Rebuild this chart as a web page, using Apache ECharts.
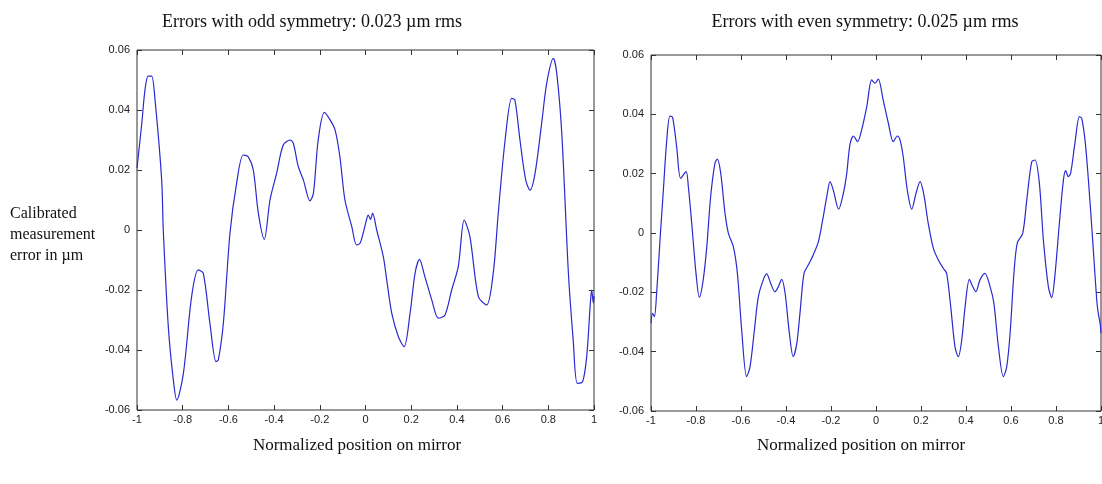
<!DOCTYPE html>
<html>
<head>
<meta charset="utf-8">
<script src="https://cdn.jsdelivr.net/npm/echarts@6/dist/echarts.min.js"></script>
<style>
html,body{margin:0;padding:0;background:#fff;}
#chart{width:1102px;height:484px;}
</style>
</head>
<body>
<div id="chart"></div>
<script>
const titleOdd = 'Errors with odd symmetry: 0.023 \u00b5m rms';
const titleEven = 'Errors with even symmetry: 0.025 \u00b5m rms';
const xAxisName = 'Normalized position on mirror';
const yAxisNameLines = ['Calibrated', 'measurement', 'error in \u00b5m'];

const oddX = [-1, -0.979, -0.965, -0.951, -0.936, -0.921, -0.892, -0.885, -0.863, -0.841, -0.826, -0.797, -0.761, -0.732, -0.710, -0.681, -0.654, -0.644, -0.622, -0.593, -0.564, -0.535, -0.513, -0.491, -0.469, -0.443, -0.418, -0.389, -0.360, -0.330, -0.316, -0.294, -0.272, -0.243, -0.228, -0.207, -0.180, -0.155, -0.133, -0.112, -0.090, -0.060, -0.039, -0.024, -0.010, 0.004, 0.012, 0.022, 0.031, 0.049, 0.078, 0.093, 0.115, 0.144, 0.169, 0.195, 0.217, 0.236, 0.260, 0.290, 0.319, 0.348, 0.377, 0.406, 0.432, 0.457, 0.494, 0.530, 0.559, 0.581, 0.611, 0.640, 0.654, 0.676, 0.701, 0.720, 0.742, 0.771, 0.793, 0.822, 0.837, 0.859, 0.888, 0.909, 0.927, 0.950, 0.968, 0.985, 0.990, 0.997, 1.0];
const oddY = [0.0206, 0.0356, 0.0467, 0.0513, 0.0513, 0.0433, 0.0167, 0.0, -0.0322, -0.050, -0.0567, -0.0478, -0.0222, -0.0133, -0.0144, -0.031, -0.0439, -0.0433, -0.031, -0.001, 0.0156, 0.025, 0.0244, 0.020, 0.0056, -0.0031, 0.010, 0.0189, 0.0283, 0.030, 0.0289, 0.0211, 0.0167, 0.0097, 0.0122, 0.030, 0.0392, 0.0367, 0.0333, 0.0244, 0.010, 0.0011, -0.005, -0.0044, -0.001, 0.0033, 0.005, 0.0035, 0.0056, 0.0, -0.0089, -0.0167, -0.0278, -0.0356, -0.0389, -0.0278, -0.0144, -0.0098, -0.0156, -0.0233, -0.0294, -0.0283, -0.020, -0.0122, 0.0033, -0.0022, -0.0222, -0.025, -0.0144, 0.0056, 0.030, 0.0439, 0.0433, 0.030, 0.0167, 0.0133, 0.0189, 0.0356, 0.0489, 0.0572, 0.0522, 0.0322, -0.0144, -0.0367, -0.0511, -0.0506, -0.0422, -0.0233, -0.020, -0.0244, -0.022];

const evenX = [-1, -0.993, -0.985, -0.975, -0.960, -0.945, -0.930, -0.916, -0.904, -0.886, -0.868, -0.844, -0.834, -0.819, -0.800, -0.785, -0.768, -0.752, -0.735, -0.716, -0.705, -0.690, -0.671, -0.656, -0.634, -0.616, -0.597, -0.575, -0.560, -0.542, -0.523, -0.501, -0.486, -0.468, -0.449, -0.434, -0.419, -0.404, -0.385, -0.368, -0.352, -0.338, -0.320, -0.301, -0.279, -0.256, -0.237, -0.219, -0.204, -0.190, -0.166, -0.145, -0.130, -0.116, -0.100, -0.082, -0.064, -0.041, -0.019, -0.004, 0.010, 0.032, 0.055, 0.077, 0.095, 0.107, 0.121, 0.139, 0.159, 0.178, 0.196, 0.213, 0.232, 0.255, 0.277, 0.299, 0.314, 0.332, 0.351, 0.366, 0.381, 0.396, 0.415, 0.430, 0.444, 0.462, 0.484, 0.507, 0.524, 0.544, 0.566, 0.581, 0.596, 0.613, 0.628, 0.652, 0.670, 0.692, 0.707, 0.726, 0.744, 0.766, 0.781, 0.796, 0.815, 0.833, 0.843, 0.855, 0.865, 0.884, 0.904, 0.914, 0.929, 0.944, 0.963, 0.981, 0.988, 0.996, 1.0];
const evenY = [-0.0304, -0.0271, -0.0282, -0.0203, -0.0024, 0.0145, 0.0313, 0.0394, 0.039, 0.0291, 0.0184, 0.0207, 0.0156, 0.0033, -0.0136, -0.0217, -0.0158, -0.0046, 0.0122, 0.0235, 0.0249, 0.0201, 0.0066, -0.0001, -0.0046, -0.0136, -0.0327, -0.0484, -0.0451, -0.0338, -0.0215, -0.0158, -0.0138, -0.017, -0.0198, -0.0181, -0.0156, -0.0203, -0.0338, -0.0417, -0.0372, -0.0271, -0.0136, -0.0108, -0.0074, -0.0029, 0.0044, 0.0122, 0.0173, 0.0145, 0.008, 0.0134, 0.0201, 0.0297, 0.0327, 0.0308, 0.0347, 0.0426, 0.0516, 0.0505, 0.0519, 0.0448, 0.037, 0.0308, 0.0327, 0.0313, 0.0257, 0.0145, 0.008, 0.0134, 0.0173, 0.0128, 0.0033, -0.0052, -0.0091, -0.0119, -0.0136, -0.0248, -0.0383, -0.0417, -0.0361, -0.0248, -0.0156, -0.0181, -0.0198, -0.0158, -0.0136, -0.0181, -0.0237, -0.0383, -0.0484, -0.0451, -0.0338, -0.0136, -0.0033, -0.0001, 0.0111, 0.024, 0.0246, 0.0168, -0.0024, -0.0181, -0.0218, -0.0136, 0.0033, 0.0179, 0.021, 0.019, 0.0201, 0.0302, 0.0392, 0.0387, 0.0313, 0.0179, -0.0024, -0.0226, -0.0271, -0.0304, -0.0338];

const xMin = -1, xMax = 1, xStep = 0.2;
const yMin = -0.06, yMax = 0.06, yStep = 0.02;

const zip = (xs, ys) => xs.map((x, i) => [x, ys[i]]);
const fmt = v => String(+v.toFixed(2));
const labelFont = {fontFamily: 'Liberation Sans', fontSize: 11, color: '#222'};
const serif = 'Liberation Serif';

function xAx(gi, pos, showLabel) {
  return {type: 'value', gridIndex: gi, position: pos, min: xMin, max: xMax, interval: xStep,
    axisLine: {show: false, onZero: false}, splitLine: {show: false},
    axisTick: {show: true, inside: true, length: 5, lineStyle: {color: '#333'}},
    axisLabel: Object.assign({show: showLabel, margin: 4, formatter: fmt}, labelFont)};
}
function yAx(gi, pos, showLabel) {
  return {type: 'value', gridIndex: gi, position: pos, min: yMin, max: yMax, interval: yStep,
    axisLine: {show: false, onZero: false}, splitLine: {show: false},
    axisTick: {show: true, inside: true, length: 5, lineStyle: {color: '#333'}},
    axisLabel: Object.assign({show: showLabel, margin: 7, formatter: fmt}, labelFont)};
}

const chart = echarts.init(document.getElementById('chart'), null, {renderer: 'canvas'});
chart.setOption({
  backgroundColor: '#fff',
  animation: false,
  title: [
    {text: titleOdd, left: 307, top: 8, textAlign: 'center', textStyle: {fontFamily: serif, fontSize: 18, fontWeight: 'normal', color: '#111'}},
    {text: titleEven, left: 860, top: 8, textAlign: 'center', textStyle: {fontFamily: serif, fontSize: 18, fontWeight: 'normal', color: '#111'}},
    {text: xAxisName, left: 352, top: 432, textAlign: 'center', textStyle: {fontFamily: serif, fontSize: 17, fontWeight: 'normal', color: '#111'}},
    {text: xAxisName, left: 856, top: 432, textAlign: 'center', textStyle: {fontFamily: serif, fontSize: 17, fontWeight: 'normal', color: '#111'}},
    {text: yAxisNameLines.join('\n'), left: 5, top: 198, textStyle: {fontFamily: serif, fontSize: 16, fontWeight: 'normal', color: '#111', lineHeight: 21}}
  ],
  grid: [
    {left: 137, top: 50, width: 457, height: 360, show: true, borderColor: '#333', borderWidth: 1, backgroundColor: '#fff', outerBoundsMode: 'none', containLabel: false},
    {left: 651, top: 55, width: 450, height: 356, show: true, borderColor: '#333', borderWidth: 1, backgroundColor: '#fff', outerBoundsMode: 'none', containLabel: false}
  ],
  xAxis: [xAx(0, 'bottom', true), xAx(0, 'top', false), xAx(1, 'bottom', true), xAx(1, 'top', false)],
  yAxis: [yAx(0, 'left', true), yAx(0, 'right', false), yAx(1, 'left', true), yAx(1, 'right', false)],
  series: [
    {type: 'line', xAxisIndex: 0, yAxisIndex: 0, data: zip(oddX, oddY), showSymbol: false, smooth: 0.3,
      lineStyle: {color: '#2a2ad0', width: 1.2}},
    {type: 'line', xAxisIndex: 2, yAxisIndex: 2, data: zip(evenX, evenY), showSymbol: false, smooth: 0.3,
      lineStyle: {color: '#2a2ad0', width: 1.2}}
  ]
});
</script>
</body>
</html>
